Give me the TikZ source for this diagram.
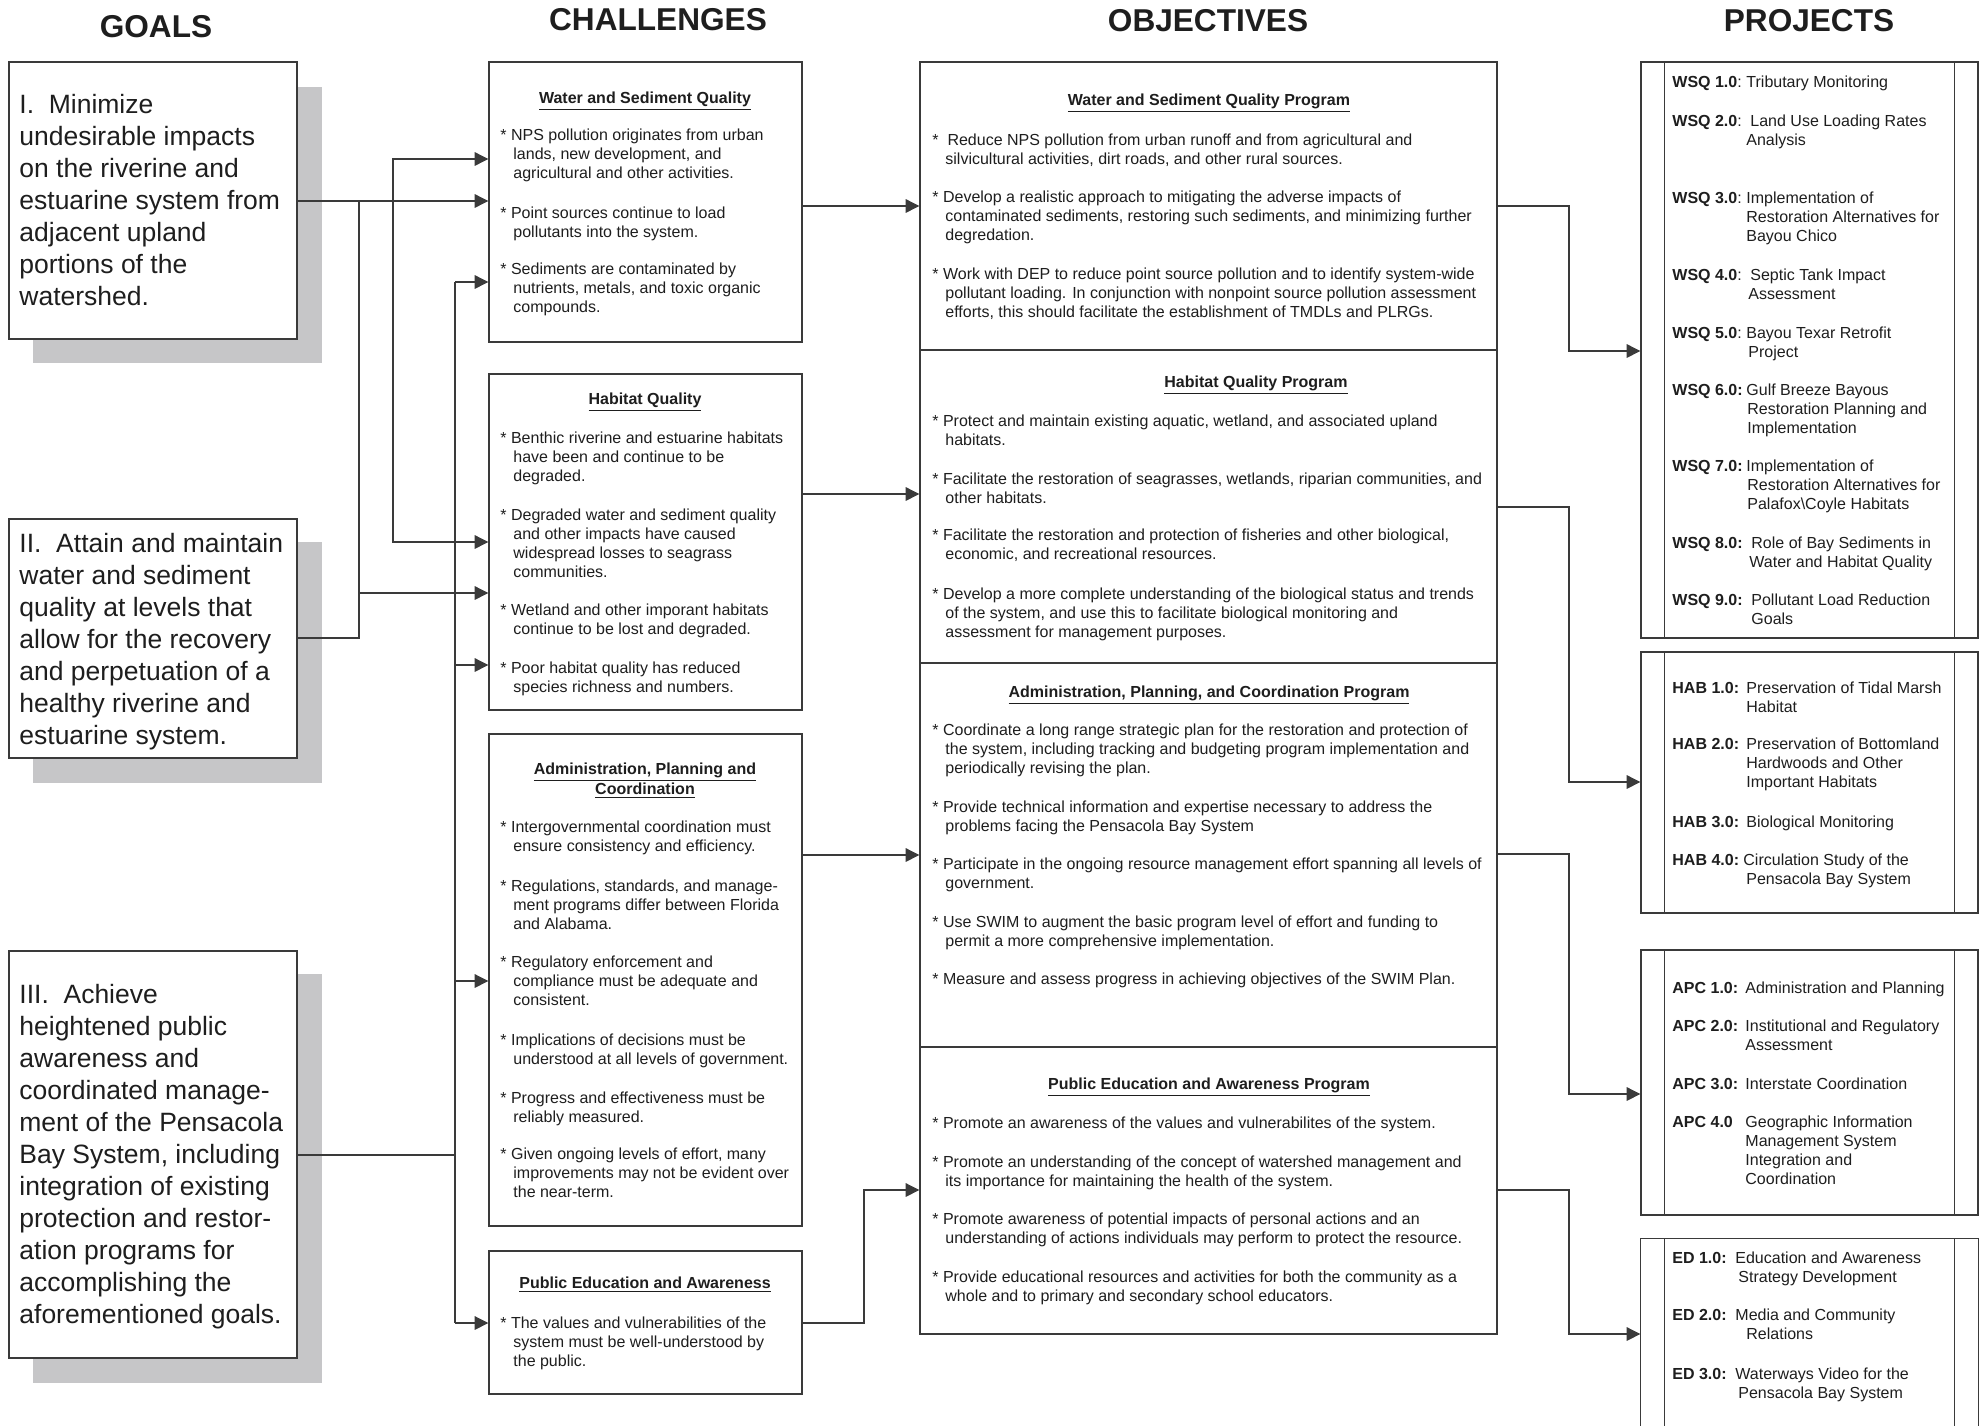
\documentclass[tikz,border=0pt]{standalone}
\usepackage{fontspec}
\setmainfont{Liberation Sans}
\usetikzlibrary{arrows.meta,fit}
\definecolor{lc}{HTML}{3A3A3A}
\definecolor{tc}{HTML}{1E1E1E}
\definecolor{shc}{HTML}{C6C6C8}
\newcommand\itm[1]{\parbox[t]{420pt}{\hangindent=6.5pt\hangafter=1 #1}}
\newcommand\pj[4]{\parbox[t]{160pt}{\hangindent=#3\hangafter=1 \makebox[#2][l]{#1}#4}}
\newcommand\gl[1]{\parbox[t]{200pt}{#1}}
\tikzset{
  box/.style={draw=lc, line width=0.7pt, fill=white, inner sep=0pt},
  sbox/.style={fill=shc, draw=none, inner sep=0pt},
  bline/.style={draw=lc, line width=0.7pt},
  conn/.style={draw=lc, line width=0.55pt},
  arr/.style={conn, -{Triangle[length=6.8pt,width=6.8pt]}},
  txt/.style={anchor=base west, inner sep=0pt, text=tc, font=\fontsize{8}{9.5}\selectfont},
  gtxt/.style={anchor=base west, inner sep=0pt, text=tc, font=\fontsize{13.25}{16}\selectfont},
  hdr/.style={anchor=base, inner sep=0pt, text=tc, font=\bfseries\fontsize{15.8}{18}\selectfont},
  ttl/.style={anchor=base, inner sep=0pt, text=tc, font=\bfseries\fontsize{8}{9.5}\selectfont},
}
\begin{document}
\begin{tikzpicture}[x=0.5pt,y=-0.5pt]
\useasboundingbox (0,0) rectangle (1984,1425);
\fill[white] (0,0) rectangle (1984,1425);

% headers
\node[hdr] (hg) at (156,37) {GOALS};
\node[hdr] (hc) at (658,30) {CHALLENGES};
\node[hdr] (ho) at (1208,31) {OBJECTIVES};
\node[hdr] (hp) at (1809,31) {PROJECTS};

% goal shadows and boxes
\node[sbox, fit={(33,87) (322,363)}] (g1s) {};
\node[sbox, fit={(33,542) (322,783)}] (g2s) {};
\node[sbox, fit={(33,974) (322,1383)}] (g3s) {};
\node[box, fit={(9,62) (297,339)}] (g1) {};
\node[box, fit={(9,519) (297,758)}] (g2) {};
\node[box, fit={(9,951) (297,1358)}] (g3) {};

% challenge boxes
\node[box, fit={(489,62) (802,342)}] (c1) {};
\node[box, fit={(489,374) (802,710)}] (c2) {};
\node[box, fit={(489,734) (802,1226)}] (c3) {};
\node[box, fit={(489,1251) (802,1394)}] (c4) {};

% objective boxes
\node[box, fit={(920,62) (1497,350)}] (o1) {};
\node[box, fit={(920,350) (1497,663)}] (o2) {};
\node[box, fit={(920,663) (1497,1047)}] (o3) {};
\node[box, fit={(920,1047) (1497,1334)}] (o4) {};

% project boxes
\node[box, fit={(1641,62) (1978,638)}] (p1) {};
\node[box, fit={(1641,652) (1978,913)}] (p2) {};
\node[box, fit={(1641,950) (1978,1215)}] (p3) {};
\node[box, draw=none, fit={(1641,1239) (1978,1425)}] (p4) {};
\draw[bline] (p4.south west) |- (p4.north east) -- (p4.south east);
\foreach \p in {p1,p2,p3,p4} {
  \draw[bline] ([xshift=12pt]\p.north west) -- ([xshift=12pt]\p.south west);
  \draw[bline] ([xshift=-12pt]\p.north east) -- ([xshift=-12pt]\p.south east);
}

% connectors: goals -> challenges
\coordinate (j1) at (393,201);
\coordinate (j2) at (359,201);
\coordinate (j3) at (359,593);
\coordinate (b3t) at (455,282);
\coordinate (b3b) at (455,1323);
\draw[arr] (g1.east |- j1) -- (c1.west |- j1);
\draw[arr] (j1) |- (c1.west |- 0,159);
\draw[arr] (j1) |- (c2.west |- 0,542);
\draw[conn] (g2.east |- 0,638) -| (j2);
\draw[arr] (j3) -- (c2.west |- j3);
\draw[conn] (b3t) -- (b3b);
\draw[conn] (g3.east |- 0,1155) -- (b3t |- 0,1155);
\draw[arr] (b3t) -- (c1.west |- b3t);
\draw[arr] (b3t |- 0,665) -- (c2.west |- 0,665);
\draw[arr] (b3t |- 0,981) -- (c3.west |- 0,981);
\draw[arr] (b3b) -- (c4.west |- b3b);

% challenges -> objectives
\draw[arr] (c1.east |- 0,206) -- (o1.west |- 0,206);
\draw[arr] (c2.east |- 0,494) -- (o2.west |- 0,494);
\draw[arr] (c3.east |- 0,855) -- (o3.west |- 0,855);
\coordinate (ob) at (864,1190);
\draw[arr] (c4.east |- 0,1323) -| (ob) -- (o4.west |- ob);

% objectives -> projects
\draw[arr] (o1.east |- 0,206) -| (1569,351) -- (p1.west |- 0,351);
\draw[arr] (o2.east |- 0,507) -| (1569,782) -- (p2.west |- 0,782);
\draw[arr] (o3.east |- 0,854) -| (1569,1094) -- (p3.west |- 0,1094);
\draw[arr] (o4.east |- 0,1190) -| (1569,1334) -- (p4.west |- 0,1334);

% goal texts
\node[gtxt] (g1x) at (19,113) {\gl{I.\ \ Minimize\\undesirable impacts\\on the riverine and\\estuarine system from\\adjacent upland\\portions of the\\watershed.}};
\node[gtxt] (g2x) at (19,552) {\gl{II.\ \ Attain and maintain\\water and sediment\\quality at levels that\\allow for the recovery\\and perpetuation of a\\healthy riverine and\\estuarine system.}};
\node[gtxt] (g3x) at (19,1003) {\gl{III.\ \ Achieve\\heightened public\\awareness and\\coordinated manage-\\ment of the Pensacola\\Bay System, including\\integration of existing\\protection and restor-\\ation programs for\\accomplishing the\\aforementioned goals.}};

% challenge texts
\node[ttl] (c1t) at (645,103) {\underline{Water and Sediment Quality}};
\node[txt] (c1a) at (500,140) {\itm{* NPS pollution originates from urban\\lands, new development, and\\agricultural and other activities.}};
\node[txt] (c1b) at (500,218) {\itm{* Point sources continue to load\\pollutants into the system.}};
\node[txt] (c1c) at (500,274) {\itm{* Sediments are contaminated by\\nutrients, metals, and toxic organic\\compounds.}};

\node[ttl] (c2t) at (645,404) {\underline{Habitat Quality}};
\node[txt] (c2a) at (500,443) {\itm{* Benthic riverine and estuarine habitats\\have been and continue to be\\degraded.}};
\node[txt] (c2b) at (500,520) {\itm{* Degraded water and sediment quality\\and other impacts have caused\\widespread losses to seagrass\\communities.}};
\node[txt] (c2c) at (500,615) {\itm{* Wetland and other imporant habitats\\continue to be lost and degraded.}};
\node[txt] (c2d) at (500,673) {\itm{* Poor habitat quality has reduced\\species richness and numbers.}};

\node[ttl] (c3t) at (645,774) {\underline{Administration, Planning and}};
\node[ttl] (c3u) at (645,794) {\underline{Coordination}};
\node[txt] (c3a) at (500,832) {\itm{* Intergovernmental coordination must\\ensure consistency and efficiency.}};
\node[txt] (c3b) at (500,891) {\itm{* Regulations, standards, and manage-\\ment programs differ between Florida\\and Alabama.}};
\node[txt] (c3c) at (500,967) {\itm{* Regulatory enforcement and\\compliance must be adequate and\\consistent.}};
\node[txt] (c3d) at (500,1045) {\itm{* Implications of decisions must be\\understood at all levels of government.}};
\node[txt] (c3e) at (500,1103) {\itm{* Progress and effectiveness must be\\reliably measured.}};
\node[txt] (c3f) at (500,1159) {\itm{* Given ongoing levels of effort, many\\improvements may not be evident over\\the near-term.}};

\node[ttl] (c4t) at (645,1288) {\underline{Public Education and Awareness}};
\node[txt] (c4a) at (500,1328) {\itm{* The values and vulnerabilities of the\\system must be well-understood by\\the public.}};

% objective texts
\node[ttl] (o1t) at (1209,105) {\underline{Water and Sediment Quality Program}};
\node[txt] (o1a) at (932,145) {\itm{*\ \ Reduce NPS pollution from urban runoff and from agricultural and\\silvicultural activities, dirt roads, and other rural sources.}};
\node[txt] (o1b) at (932,202) {\itm{* Develop a realistic approach to mitigating the adverse impacts of\\contaminated sediments, restoring such sediments, and minimizing further\\degredation.}};
\node[txt] (o1c) at (932,279) {\itm{* Work with DEP to reduce point source pollution and to identify system-wide\\pollutant loading. In conjunction with nonpoint source pollution assessment\\efforts, this should facilitate the establishment of TMDLs and PLRGs.}};

\node[ttl] (o2t) at (1256,387) {\underline{Habitat Quality Program}};
\node[txt] (o2a) at (932,426) {\itm{* Protect and maintain existing aquatic, wetland, and associated upland\\habitats.}};
\node[txt] (o2b) at (932,484) {\itm{* Facilitate the restoration of seagrasses, wetlands, riparian communities, and\\other habitats.}};
\node[txt] (o2c) at (932,540) {\itm{* Facilitate the restoration and protection of fisheries and other biological,\\economic, and recreational resources.}};
\node[txt] (o2d) at (932,599) {\itm{* Develop a more complete understanding of the biological status and trends\\of the system, and use this to facilitate biological monitoring and\\assessment for management purposes.}};

\node[ttl] (o3t) at (1209,697) {\underline{Administration, Planning, and Coordination Program}};
\node[txt] (o3a) at (932,735) {\itm{* Coordinate a long range strategic plan for the restoration and protection of\\the system, including tracking and budgeting program implementation and\\periodically revising the plan.}};
\node[txt] (o3b) at (932,812) {\itm{* Provide technical information and expertise necessary to address the\\problems facing the Pensacola Bay System}};
\node[txt] (o3c) at (932,869) {\itm{* Participate in the ongoing resource management effort spanning all levels of\\government.}};
\node[txt] (o3d) at (932,927) {\itm{* Use SWIM to augment the basic program level of effort and funding to\\permit a more comprehensive implementation.}};
\node[txt] (o3e) at (932,984) {\itm{* Measure and assess progress in achieving objectives of the SWIM Plan.}};

\node[ttl] (o4t) at (1209,1089) {\underline{Public Education and Awareness Program}};
\node[txt] (o4a) at (932,1128) {\itm{* Promote an awareness of the values and vulnerabilites of the system.}};
\node[txt] (o4b) at (932,1167) {\itm{* Promote an understanding of the concept of watershed management and\\its importance for maintaining the health of the system.}};
\node[txt] (o4c) at (932,1224) {\itm{* Promote awareness of potential impacts of personal actions and an\\understanding of actions individuals may perform to protect the resource.}};
\node[txt] (o4d) at (932,1282) {\itm{* Provide educational resources and activities for both the community as a\\whole and to primary and secondary school educators.}};

% project texts
\node[txt] (w1) at (1672,87) {\pj{\textbf{WSQ 1.0}:}{37pt}{37pt}{Tributary Monitoring}};
\node[txt] (w2) at (1672,126) {\pj{\textbf{WSQ 2.0}:}{39pt}{37pt}{Land Use Loading Rates\\Analysis}};
\node[txt] (w3) at (1672,203) {\pj{\textbf{WSQ 3.0}:}{37pt}{37pt}{Implementation of\\Restoration Alternatives for\\Bayou Chico}};
\node[txt] (w4) at (1672,280) {\pj{\textbf{WSQ 4.0}:}{39pt}{38pt}{Septic Tank Impact\\Assessment}};
\node[txt] (w5) at (1672,338) {\pj{\textbf{WSQ 5.0}:}{37pt}{38pt}{Bayou Texar Retrofit\\Project}};
\node[txt] (w6) at (1672,395) {\pj{\textbf{WSQ 6.0:}}{37pt}{37.5pt}{Gulf Breeze Bayous\\Restoration Planning and\\Implementation}};
\node[txt] (w7) at (1672,471) {\pj{\textbf{WSQ 7.0:}}{37pt}{37.5pt}{Implementation of\\Restoration Alternatives for\\Palafox\textbackslash Coyle Habitats}};
\node[txt] (w8) at (1672,548) {\pj{\textbf{WSQ 8.0:}}{39.5pt}{38.5pt}{Role of Bay Sediments in\\Water and Habitat Quality}};
\node[txt] (w9) at (1672,605) {\pj{\textbf{WSQ 9.0:}}{39.5pt}{39.5pt}{Pollutant Load Reduction\\Goals}};

\node[txt] (h1) at (1672,693) {\pj{\textbf{HAB 1.0:}}{37pt}{37pt}{Preservation of Tidal Marsh\\Habitat}};
\node[txt] (h2) at (1672,749) {\pj{\textbf{HAB 2.0:}}{37pt}{37pt}{Preservation of Bottomland\\Hardwoods and Other\\Important Habitats}};
\node[txt] (h3) at (1672,827) {\pj{\textbf{HAB 3.0:}}{37pt}{37pt}{Biological Monitoring}};
\node[txt] (h4) at (1672,865) {\pj{\textbf{HAB 4.0:}}{35.5pt}{37pt}{Circulation Study of the\\Pensacola Bay System}};

\node[txt] (a1) at (1672,993) {\pj{\textbf{APC 1.0:}}{36.5pt}{36.5pt}{Administration and Planning}};
\node[txt] (a2) at (1672,1031) {\pj{\textbf{APC 2.0:}}{36.5pt}{36.5pt}{Institutional and Regulatory\\Assessment}};
\node[txt] (a3) at (1672,1089) {\pj{\textbf{APC 3.0:}}{36.5pt}{36.5pt}{Interstate Coordination}};
\node[txt] (a4) at (1672,1127) {\pj{\textbf{APC 4.0}}{36.5pt}{36.5pt}{Geographic Information\\Management System\\Integration and\\Coordination}};

\node[txt] (e1) at (1672,1263) {\pj{\textbf{ED 1.0:}}{31.5pt}{33pt}{Education and Awareness\\Strategy Development}};
\node[txt] (e2) at (1672,1320) {\pj{\textbf{ED 2.0:}}{31.5pt}{37pt}{Media and Community\\Relations}};
\node[txt] (e3) at (1672,1379) {\pj{\textbf{ED 3.0:}}{31.5pt}{33pt}{Waterways Video for the\\Pensacola Bay System}};
\end{tikzpicture}
\end{document}
